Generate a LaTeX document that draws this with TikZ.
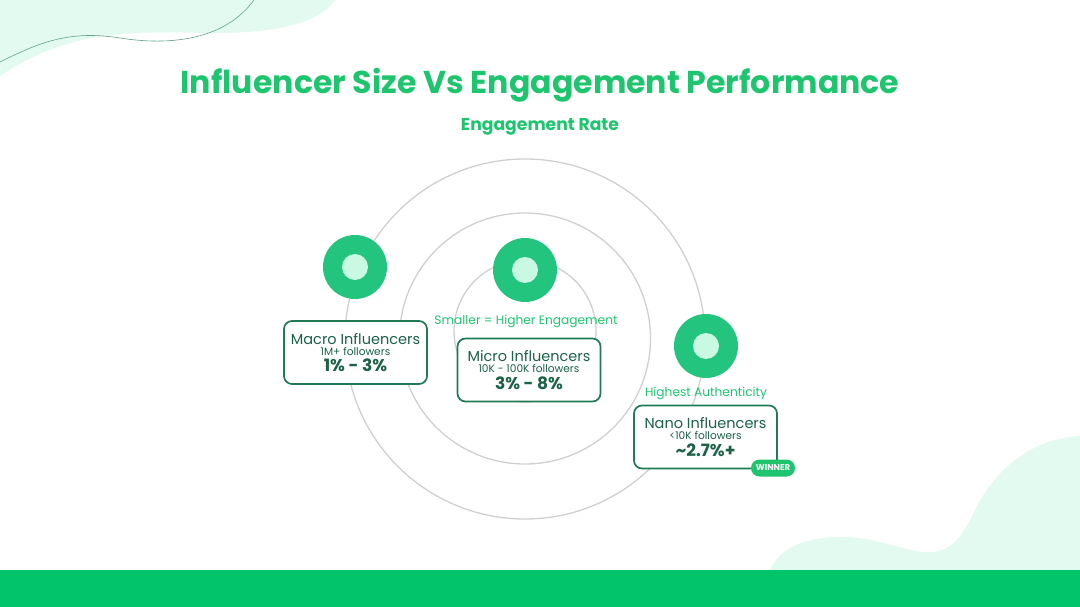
\documentclass[tikz,border=0pt]{standalone}
\usepackage{fontspec}
\setmainfont{Poppins}
\definecolor{titlegreen}{HTML}{1EC46E}
\definecolor{dotgreen}{HTML}{22C47E}
\definecolor{dotmint}{HTML}{C9F8E3}
\definecolor{boxgreen}{HTML}{1F7A55}
\definecolor{textgreen}{HTML}{1B6246}
\definecolor{ringgray}{HTML}{CFCFCF}
\definecolor{mint}{HTML}{E2FAF0}
\definecolor{bargreen}{HTML}{02C46B}
\tikzset{
    ring/.style = {
        draw            = ringgray,
        line width      = 1.3pt,
    },
    dotouter/.style = {
        circle,
        fill            = dotgreen,
        minimum size    = 64pt,
        inner sep       = 0pt,
    },
    dotinner/.style = {
        circle,
        fill            = dotmint,
        minimum size    = 26pt,
        inner sep       = 0pt,
    },
    infobox/.style = {
        draw            = boxgreen,
        fill            = white,
        line width      = 1.7pt,
        rounded corners = 8pt,
        minimum width   = 143pt,
        minimum height  = 63pt,
        inner sep       = 0pt,
        align           = center,
        text            = textgreen,
        font            = \fontsize{10}{12}\selectfont,
    },
    hint/.style = {
        text            = titlegreen,
        font            = \fontsize{12.2}{13}\selectfont,
    },
    winnertag/.style = {
        fill            = titlegreen,
        text            = white,
        rounded corners = 8.5pt,
        minimum width   = 44pt,
        minimum height  = 17pt,
        inner sep       = 0pt,
        font            = \fontsize{8.5}{9}\bfseries\selectfont,
    }
}
\newcommand{\boxlines}[3]{%
  \lineskiplimit=-30pt\relax
  {\fontsize{14.5}{12}\selectfont #1}\\[-1pt]
  {\fontsize{10.6}{12}\selectfont #2}\\[3pt]
  {\fontsize{17}{12}\bfseries\selectfont #3}}

\begin{document}
\begin{tikzpicture}[x=1pt,y=-1pt]
  \useasboundingbox (0,0) rectangle (1080,607);

  % Hintergrund
  \fill[mint] (0,0) -- (335,0) .. controls (315,28) and (260,34) .. (200,33)
    .. controls (120,30) and (60,35) .. (0,76) -- cycle;
  \draw[boxgreen!70,line width=0.6pt] (254,0) .. controls (225,40) and (170,46) .. (120,38)
    .. controls (70,30) and (40,42) .. (0,62);
  \fill[mint] (770,571) .. controls (780,540) and (830,530) .. (880,542)
    .. controls (930,555) and (950,565) .. (975,510)
    .. controls (1000,460) and (1040,438) .. (1080,436) -- (1080,571) -- cycle;
  \fill[bargreen] (0,570) rectangle (1080,607);

  % Titel
  \node[text=titlegreen,font=\fontsize{31.6}{33}\bfseries\selectfont] (Titel) at (540,85)
    {Influencer Size Vs Engagement Performance};
  \node[text=titlegreen,font=\fontsize{17.2}{18}\bfseries\selectfont] (Untertitel) at (540,127)
    {Engagement Rate};

  % Ringe
  \draw[ring] (525,339) circle (180);
  \draw[ring] (525,338.5) circle (125.5);
  \draw[ring] (525,331) circle (71);

  % Macro
  \node[dotouter] (MacroPunkt) at (355,267) {};
  \node[dotinner] at (MacroPunkt) {};
  \node[infobox] (MacroBox) at (355.5,352.5)
    {\boxlines{Macro Influencers}{1M+ followers}{1\% - 3\%}};

  % Micro
  \node[dotouter] (MicroPunkt) at (525,270) {};
  \node[dotinner] at (MicroPunkt) {};
  \node[hint] (MicroHinweis) at (526,322) {Smaller = Higher Engagement};
  \node[infobox] (MicroBox) at (529,370)
    {\boxlines{Micro Influencers}{10K - 100K followers}{3\% - 8\%}};

  % Nano
  \node[dotouter] (NanoPunkt) at (706,346) {};
  \node[dotinner] at (NanoPunkt) {};
  \node[hint] (NanoHinweis) at (706,394) {Highest Authenticity};
  \node[infobox] (NanoBox) at (705.5,437)
    {\boxlines{Nano Influencers}{<10K followers}{\textasciitilde 2.7\%+}};
  \node[winnertag] (Gewinner) at (773,468) {WINNER};

\end{tikzpicture}
\end{document}
